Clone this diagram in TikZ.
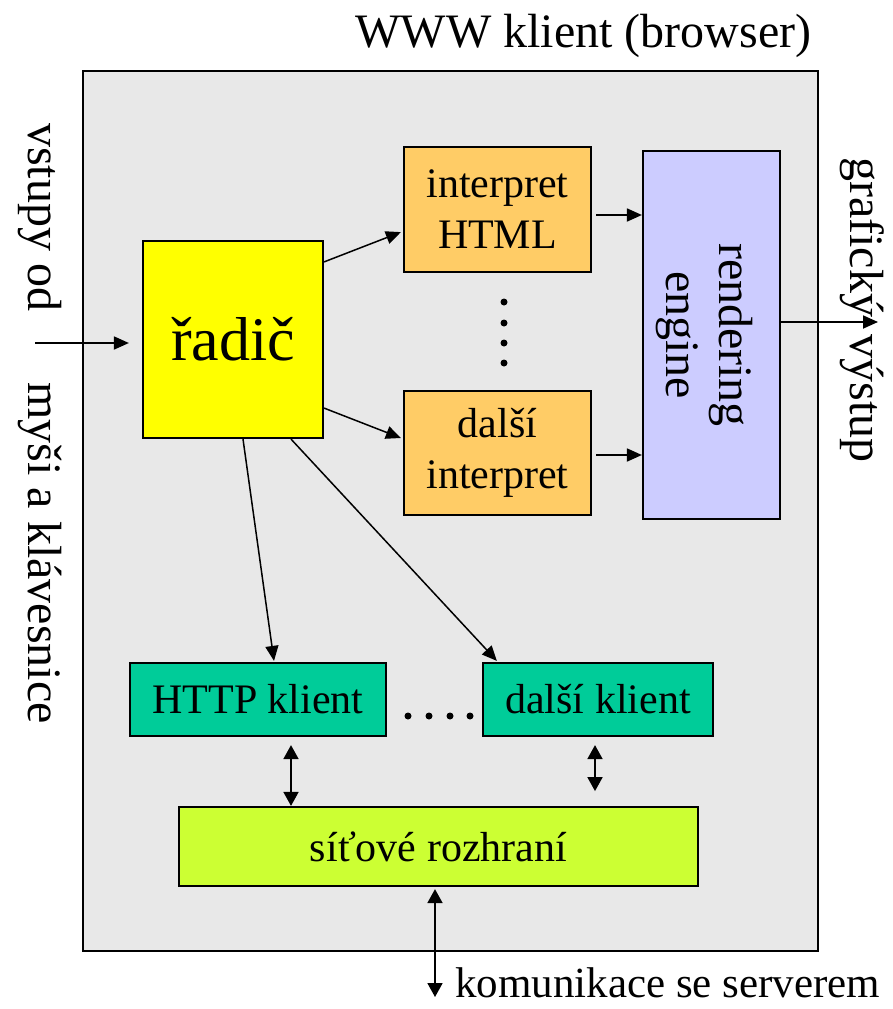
\documentclass[tikz,border=0pt]{standalone}
\usepackage{fontspec}
\setmainfont{Liberation Serif}
\usetikzlibrary{arrows.meta,calc}
\definecolor{bgray}{HTML}{E8E8E8}
\definecolor{yel}{HTML}{FFFF00}
\definecolor{orng}{HTML}{FFCC66}
\definecolor{lav}{HTML}{CCCCFF}
\definecolor{tealg}{HTML}{00CC99}
\definecolor{limeg}{HTML}{CCFF33}
\begin{document}
\begin{tikzpicture}[x=1pt,y=-1pt,
  blk/.style={draw=black, line width=2.2pt, inner sep=0pt, align=center},
  boxfont/.style={font=\fontsize{42}{51}\selectfont},
  sidefont/.style={font=\fontsize{48}{56}\selectfont},
  arr/.style={line width=1.8pt, -{Triangle[length=15pt,width=13pt]}},
  thinarr/.style={line width=1.5pt, -{Triangle[length=15pt,width=13pt]}},
  darr/.style={line width=1.8pt, {Triangle[length=14pt,width=15pt]}-{Triangle[length=14pt,width=15pt]}},
  lbl/.style={inner sep=0pt},
  dot/.style={fill=black}]
\useasboundingbox (0,0) rectangle (892,1009);
% main frame
\node[blk, fill=bgray, minimum width=735, minimum height=880] (main) at (450.5,511) {};
\node[lbl, anchor=base, sidefont] (title) at (583.5,47) {WWW klient (browser)};
% blocks
\node[blk, fill=yel, minimum width=180, minimum height=197, font=\fontsize{62}{70}\selectfont] (radic) at (233,339.5) {řadič};
\node[blk, fill=orng, minimum width=187, minimum height=125, boxfont] (html) at (497.5,209.5) {interpret\\HTML};
\node[blk, fill=orng, minimum width=187, minimum height=124, boxfont] (dalsi) at (497.5,453) {další\\interpret};
\node[blk, fill=lav, minimum width=137, minimum height=368] (render) at (711.5,335) {};
\node[lbl, rotate=-90, align=center, font=\fontsize{48}{53}\selectfont] (rendtext) at (704,335) {rendering\\engine};
\node[blk, fill=tealg, minimum width=256, minimum height=73, boxfont] (http) at (258,699.5) {HTTP klient};
\node[blk, fill=tealg, minimum width=230, minimum height=73, boxfont] (dklient) at (598,699.5) {další klient};
\node[blk, fill=limeg, minimum width=519, minimum height=79, boxfont] (sit) at (438.5,846.5) {síťové rozhraní};
% outside labels
\node[lbl, rotate=-90, anchor=west, sidefont] (vst) at (40,123) {vstupy od};
\node[lbl, rotate=-90, anchor=east, sidefont] (mys) at (40,724) {myši a klávesnice};
\node[lbl, rotate=-90, anchor=west, sidefont] (graf) at (862,157) {grafický};
\node[lbl, rotate=-90, anchor=east, sidefont] (vyst) at (862,463) {výstup};
\node[lbl, anchor=base west, font=\fontsize{43}{50}\selectfont] (kom) at (455,997) {komunikace se serverem};
% dots
\foreach \yy in {302,323,343,363} \fill[dot] (504,\yy) circle (3.5);
\foreach \xx in {408,429,450,470} \fill[dot] (\xx,716) circle (3.5);
% connectors
\coordinate (inp) at (35,343);
\draw[arr] (inp) -- ($(radic.west)+(-13,3.5)$);
\draw[thinarr] ($(radic.north east)+(0,22)$) -- ($(html.south west)+(-2,-41)$);
\draw[thinarr] ($(radic.south east)+(0,-31)$) -- ($(dalsi.west)+(-2,-15)$);
\draw[arr] ($(html.east)+(4,5.5)$) coordinate (h1) -- (h1 -| render.west);
\draw[arr] ($(dalsi.east)+(4,2)$) coordinate (d1) -- (d1 -| render.west);
\coordinate (outp) at (878,322);
\draw[arr] (render.east |- outp) -- (outp);
\draw[thinarr] ($(radic.south)+(10,0)$) -- ($(http.north)+(16,-1)$);
\draw[thinarr] ($(radic.south)+(58,0)$) -- ($(dklient.north west)+(15,-1)$);
\draw[darr] ($(http.south)+(33,8)$) coordinate (hs) -- (hs |- sit.north);
\draw[darr] ($(dklient.south)+(-3,8)$) -- ++(0,46);
\coordinate (srv) at (435,997);
\draw[darr] (srv |- sit.south) ++(0,2) -- (srv);
\end{tikzpicture}
\end{document}
